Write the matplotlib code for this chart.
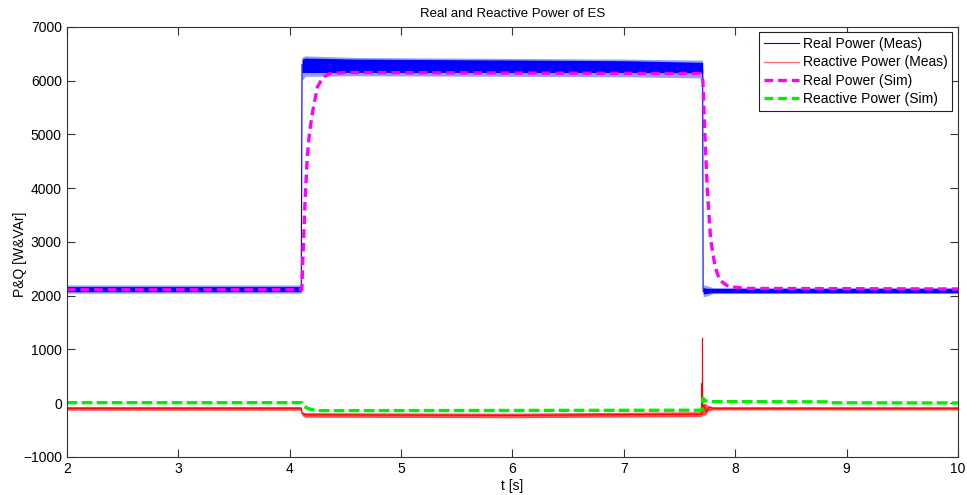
import numpy as np
import matplotlib
matplotlib.use('Agg')
import matplotlib.pyplot as plt
from matplotlib.lines import Line2D

plt.rcParams.update({
    'font.family': ['Liberation Sans', 'DejaVu Sans'],
    'font.size': 10,
})

# Real power, measured: centre line and oscillation envelope (outer / dense core)
t_p = [2.0, 4.105, 4.112, 4.14, 4.6, 7.0, 7.70, 7.708, 7.712, 7.74, 7.80, 10.0]
p_meas = [2110, 2110, 6300, 6300, 6290, 6250, 6220, 6200, 2080, 2070, 2095, 2095]
p_outer_hi = [2200, 2200, 6440, 6460, 6430, 6400, 6380, 6380, 2200, 2190, 2150, 2150]
p_outer_lo = [2045, 2045, 6000, 6080, 6090, 6070, 6050, 6050, 1980, 1990, 2040, 2040]
p_core_hi = [2168, 2168, 6400, 6420, 6400, 6370, 6340, 6340, 2150, 2140, 2135, 2135]
p_core_lo = [2075, 2075, 6150, 6150, 6150, 6150, 6144, 6144, 2030, 2040, 2055, 2055]

# Reactive power, measured
t_q = [2.0, 4.105, 4.112, 4.14, 6.0, 7.69, 7.702, 7.7035, 7.705, 7.7065, 7.708, 7.72, 7.74, 7.77, 7.80, 10.0]
q_meas = [-95, -95, -190, -215, -225, -205, -200, 371, -150, 1210, -90, -40, -160, -70, -95, -95]
t_qb = [2.0, 4.105, 4.112, 4.14, 6.0, 7.69, 7.708, 7.73, 7.76, 7.80, 10.0]
q_band_hi = [-62, -62, -160, -176, -185, -157, -10, 0, -50, -64, -64]
q_band_lo = [-130, -130, -230, -261, -270, -250, -220, -220, -140, -126, -126]

# Real power, simulated
t_ps = [2.0, 4.11, 4.12, 4.14, 4.16, 4.18, 4.21, 4.25, 4.30, 4.36, 4.5, 7.69,
        7.71, 7.73, 7.75, 7.78, 7.82, 7.86, 7.94, 8.1, 10.0]
p_sim = [2110, 2110, 2700, 3800, 4600, 5050, 5450, 5880, 6060, 6130, 6150, 6130,
         6000, 4900, 3970, 3040, 2540, 2290, 2170, 2135, 2125]

# Reactive power, simulated
t_qs = [2.0, 4.11, 4.13, 4.17, 4.20, 4.25, 7.70, 7.712, 7.73, 7.80, 8.84, 8.86, 10.0]
q_sim = [10, 10, -60, -100, -120, -139, -130, 92, 45, 30, 25, 8, 5]

fig = plt.figure(figsize=(9.67, 4.95), dpi=100)
ax = fig.add_axes([0.069, 0.0768, 0.9217, 0.869])

ax.fill_between(t_p, p_outer_lo, p_outer_hi, color='#3b50ff', alpha=0.55, lw=0)
ax.fill_between(t_p, p_core_lo, p_core_hi, color='#0000ff', lw=0)
ax.plot(t_p, p_meas, color='#0000ff', lw=0.8)

ax.fill_between(t_qb, q_band_lo, q_band_hi, color='#ff1010', alpha=0.75, lw=0)
ax.plot(t_q, q_meas, color='#ff0000', lw=0.8)

ax.plot(t_ps, p_sim, color='#ff00ff', lw=2.4, ls=(0, (2.6, 1.5)))
ax.plot(t_qs, q_sim, color='#00ee00', lw=2.4, ls=(0, (3.2, 1.3)))

ax.set_xlim(2, 10)
ax.set_ylim(-1000, 7000)
ax.set_xticks(np.arange(2, 11, 1))
ax.set_yticks(np.arange(-1000, 7001, 1000))
ax.tick_params(direction='in', length=6, top=True, right=True, labelsize=10,
               color='#333333')
for s in ax.spines.values():
    s.set_linewidth(0.8)
    s.set_color('#333333')

ax.set_title('Real and Reactive Power of ES', fontsize=9.5, pad=7)
ax.set_xlabel('t [s]', fontsize=10, labelpad=2)
ax.set_ylabel('P&Q [W&VAr]', fontsize=10)
ax.yaxis.set_label_coords(-0.045, 0.47)

handles = [
    Line2D([], [], color='#0000ff', lw=0.8),
    Line2D([], [], color='#ff7070', lw=1.0),
    Line2D([], [], color='#ff00ff', lw=2.4, ls=(0, (2.6, 1.5))),
    Line2D([], [], color='#00ee00', lw=2.4, ls=(0, (2.6, 1.5))),
]
labels = ['Real Power (Meas)', 'Reactive Power (Meas)',
          'Real Power (Sim)', 'Reactive Power (Sim)']
leg = ax.legend(handles, labels, loc='upper right', fontsize=10, fancybox=False,
                framealpha=1, edgecolor='#222222', borderpad=0.35, labelspacing=0.3,
                handlelength=2.5, handletextpad=0.3, borderaxespad=0.4)
leg.get_frame().set_linewidth(0.8)

fig.savefig('out.png')
